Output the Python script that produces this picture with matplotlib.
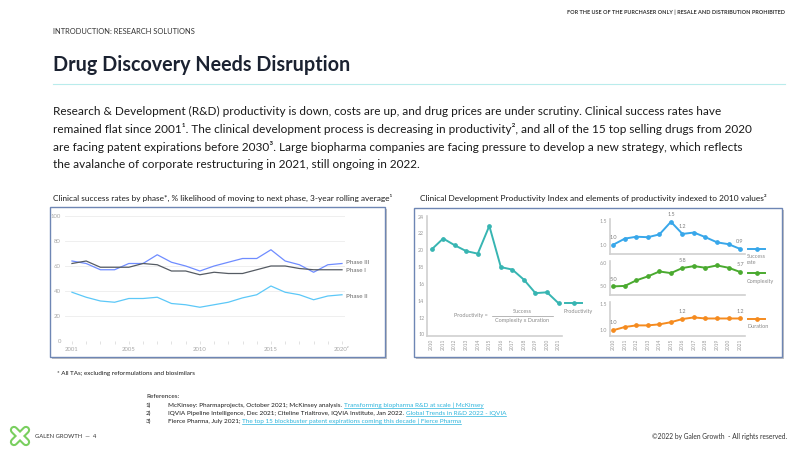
import matplotlib
matplotlib.use('Agg')
import matplotlib.pyplot as plt
from matplotlib.patches import Rectangle
from matplotlib.lines import Line2D

# ---------------- data ----------------
years_left = list(range(2001, 2021))
phase_iii = [64, 62, 57, 57, 62, 62, 69, 63, 60, 56, 60, 63, 66, 66, 73, 64, 61, 55, 61, 62]
phase_i = [62, 64, 59, 59, 59, 62, 61, 56, 56, 53, 55, 54, 54, 57, 60, 60, 58, 57, 57, 57]
phase_ii = [39, 35, 32, 31, 34, 34, 35, 30, 29, 27, 29, 31, 34.5, 37, 44, 39, 37, 33, 36, 37]
left_xticks = [2001, 2005, 2010, 2015, 2020]
left_xticklabels = ['2001', '2005', '2010', '2015', '2020²']
left_yticks = [0, 20, 40, 60, 80, 100]
phase_names = ['Phase III', 'Phase I', 'Phase II']

years_right = list(range(2010, 2022))
productivity = [20.1, 21.4, 20.6, 19.9, 19.6, 22.9, 18.0, 17.7, 16.5, 14.9, 15.0, 13.7]
success_rate = [1.0, 1.13, 1.17, 1.16, 1.22, 1.49, 1.23, 1.26, 1.16, 1.05, 1.01, 0.91]
complexity = [5.0, 5.02, 5.26, 5.43, 5.64, 5.57, 5.79, 5.87, 5.80, 5.90, 5.80, 5.62]
duration = [1.0, 1.06, 1.09, 1.09, 1.11, 1.15, 1.21, 1.24, 1.22, 1.22, 1.22, 1.22]
prod_yticks = [10, 12, 14, 16, 18, 20, 22, 24]
success_labels = [(0, '1.0'), (5, '1.5'), (6, '1.2'), (11, '0.9')]
complexity_labels = [(0, '5.0'), (6, '5.8'), (11, '5.7')]
duration_labels = [(0, '1.0'), (6, '1.2'), (11, '1.2')]

paragraph = [
    "Research & Development (R&D) productivity is down, costs are up, and drug prices are under scrutiny. Clinical success rates have",
    "remained flat since 2001¹. The clinical development process is decreasing in productivity², and all of the 15 top selling drugs from 2020",
    "are facing patent expirations before 2030³. Large biopharma companies are facing pressure to develop a new strategy, which reflects",
    "the avalanche of corporate restructuring in 2021, still ongoing in 2022.",
]
references = [
    ("1)", "McKinsey: Pharmaprojects, October 2021; McKinsey analysis. ", "Transforming biopharma R&D at scale | McKinsey"),
    ("2)", "IQVIA Pipeline Intelligence, Dec 2021; Citeline Trialtrove, IQVIA Institute, Jan 2022. ", "Global Trends in R&D 2022 - IQVIA"),
    ("3)", "Fierce Pharma, July 2021; ", "The top 15 blockbuster patent expirations coming this decade | Fierce Pharma"),
]

# ---------------- setup ----------------
plt.rcParams['font.family'] = ['Lato', 'DejaVu Sans']
W, H = 800, 450
fig = plt.figure(figsize=(8, 4.5), dpi=100)
fig.patch.set_facecolor('white')
fig.canvas.draw()
R = fig.canvas.get_renderer()


def fx(x):
    return x / W


def fy(y):
    return 1 - y / H


def txt(x, y, s, **kw):
    kw.setdefault('va', 'center')
    return fig.text(fx(x), fy(y), s, **kw)


def width(t):
    return t.get_window_extent(renderer=R).width


def fit(t, w):
    t.set_fontsize(t.get_fontsize() * w / width(t))
    return t


def ax_at(x0, y0, x1, y1):
    a = fig.add_axes([fx(x0), fy(y1), (x1 - x0) / W, (y1 - y0) / H])
    a.set_facecolor('none')
    return a


def fline(xs, ys, **kw):
    fig.add_artist(Line2D([fx(v) for v in xs], [fy(v) for v in ys], transform=fig.transFigure, **kw))


def box(x0, y0, x1, y1):
    fig.add_artist(Rectangle((fx(x0 + 2), fy(y1 + 2)), (x1 - x0) / W, (y1 - y0) / H,
                             transform=fig.transFigure, facecolor='#c4c4c4', edgecolor='none', zorder=-3))
    fig.add_artist(Rectangle((fx(x0), fy(y1)), (x1 - x0) / W, (y1 - y0) / H,
                             transform=fig.transFigure, facecolor='white', edgecolor='#6e86b4', lw=1.0, zorder=-2))


# ---------------- header ----------------
t = txt(785, 12, "FOR THE USE OF THE PURCHASER ONLY | RESALE AND DISTRIBUTION PROHIBITED",
        ha='right', fontsize=4.5, color='#333333', fontweight='bold')
fit(t, 218)
t = txt(53, 31, "INTRODUCTION: RESEARCH SOLUTIONS", fontsize=5.5, color='#333333')
fit(t, 142)
t = txt(53, 65, "Drug Discovery Needs Disruption", fontsize=14, fontweight='bold', color='#1b2231')
fit(t, 297)
fline([53, 785], [84.3, 84.3], color='#b9ecec', lw=0.8)

pts = [txt(53, 111 + 18 * i, line, fontsize=8.5, color='#1a1a1a') for i, line in enumerate(paragraph)]
fit(pts[1], 693)
for p in pts:
    p.set_fontsize(pts[1].get_fontsize())

# ---------------- left chart ----------------
t = txt(53, 198, "Clinical success rates by phase*, % likelihood of moving to next phase, 3-year rolling average¹",
        fontsize=5.5, color='#1a1a1a')
fit(t, 335)
box(50, 207, 385, 357)

axL = ax_at(65, 216, 345, 341)
cols = ['#6f8cff', '#555b63', '#5cc8f8']
for vals, c in zip([phase_iii, phase_i, phase_ii], cols):
    axL.plot(years_left, vals, color=c, lw=0.9)
axL.set_xlim(2000.51, 2020.21)
axL.set_ylim(0, 100)
axL.set_yticks(left_yticks)
axL.set_xticks(left_xticks)
axL.set_xticklabels(left_xticklabels)
axL.set_xticks(years_left, minor=True)
axL.grid(axis='y', color='#ececec', lw=0.6)
axL.set_axisbelow(True)
for s in axL.spines.values():
    s.set_visible(False)
axL.tick_params(axis='y', length=0, labelsize=4.3, labelcolor='#a8a8a8', pad=3)
axL.tick_params(axis='x', which='both', length=2, width=0.4, color='#cccccc', labelsize=4.3,
                labelcolor='#a8a8a8', pad=2)
lab_y = [262, 270, 296]
for name, yy in zip(phase_names, lab_y):
    txt(346, yy, name, fontsize=4.5, color='#666666')

t = txt(57, 373, "* All TAs; excluding reformulations and biosimilars", fontsize=4.5, color='#1a1a1a')
fit(t, 138)

# ---------------- right chart ----------------
t = txt(420, 198, "Clinical Development Productivity Index and elements of productivity indexed to 2010 values²",
        fontsize=5.5, color='#1a1a1a')
fit(t, 345)
box(414, 208, 782, 357)

teal = '#37b5b2'
axP = ax_at(427, 216, 562, 336)
axP.plot(years_right, productivity, color=teal, lw=1.4, marker='o', ms=2.4)
axP.set_xlim(2009.6, 2021.3)
axP.set_ylim(9.8, 24.08)
axP.set_yticks(prod_yticks)
axP.set_xticks(years_right)


def style_right(a, show_x):
    for k in ['top', 'right']:
        a.spines[k].set_visible(False)
    for k in ['left', 'bottom']:
        a.spines[k].set_color('#d0d0d0')
        a.spines[k].set_linewidth(1.2)
    a.tick_params(axis='y', length=0, labelsize=3.8, labelcolor='#9a9a9a', pad=2)
    a.tick_params(axis='x', length=0, labelsize=3.5, labelcolor='#9a9a9a', pad=2, labelrotation=90)
    if not show_x:
        a.set_xticklabels([])


style_right(axP, True)

txt(489, 316, "Productivity = ", ha='right', fontsize=4, color='#8a8a8a')
txt(522.5, 311.5, "Success", ha='center', fontsize=4, color='#8a8a8a')
fline([492, 553], [315.5, 315.5], color='#9a9a9a', lw=0.5)
txt(522.5, 320.5, "Complexity x Duration", ha='center', fontsize=4, color='#8a8a8a')


def legend_item(y, color, label_lines):
    fline([565 if color == teal else 748, 582 if color == teal else 765], [y, y], color=color, lw=1.4)
    xm = 573.5 if color == teal else 756.5
    fline([xm], [y], color=color, marker='o', ms=2.4, lw=0)
    x0 = 564 if color == teal else 747
    for i, l in enumerate(label_lines):
        txt(x0, y + 8 + 5 * i, l, fontsize=4, color='#8a8a8a')


legend_item(303, teal, ["Productivity"])

panels = [
    (219, 254, (0.8, 1.55), [1.0, 1.5], ['1.0', '1.5'], success_rate, '#38a7ea', success_labels, False,
     ["Success", "rate"], 249),
    (261, 295, (4.63, 6.09), [5.0, 6.0], ['5.0', '6.0'], complexity, '#4aaa2f', complexity_labels, False,
     ["Complexity"], 273),
    (302, 335.5, (0.9, 1.53), [1.0, 1.5], ['1.0', '1.5'], duration, '#f58b1f', duration_labels, True,
     ["Duration"], 319),
]
for top, bot, ylim, yt, ytl, vals, col, labs, showx, leg, legy in panels:
    a = ax_at(610, top, 745, bot)
    a.plot(years_right, vals, color=col, lw=1.4, marker='o', ms=2.4)
    a.set_xlim(2009.71, 2021.43)
    a.set_ylim(*ylim)
    a.set_yticks(yt)
    a.set_yticklabels(ytl)
    a.set_xticks(years_right)
    style_right(a, showx)
    for i, s in labs:
        a.annotate(s, (years_right[i], vals[i]), xytext=(0, 3.5), textcoords='offset points',
                   ha='center', va='bottom', fontsize=4, color='#808080')
    legend_item(legy, col, leg)

# ---------------- references ----------------
txt(146, 397, "References:", fontsize=4.6, color='#1a1a1a')
for i, (num, plain, link) in enumerate(references):
    y = 405 + 8 * i
    txt(146, y, num, fontsize=4.6, color='#1a1a1a')
    tp = txt(168, y, plain, fontsize=4.6, color='#1a1a1a')
    wp = width(tp)
    tl = txt(168 + wp, y, link, fontsize=4.6, color='#2bb4dc')
    wl = width(tl)
    fline([168 + wp, 168 + wp + wl], [y + 3.2, y + 3.2], color='#2bb4dc', lw=0.5)

# ---------------- footer ----------------
axG = ax_at(8, 424, 32, 448)
axG.set_xlim(0, 1)
axG.set_ylim(0, 1)
axG.axis('off')
for (xa, ya, xb, yb) in [(0.25, 0.25, 0.75, 0.75), (0.25, 0.75, 0.75, 0.25)]:
    axG.plot([xa, xb], [ya, yb], color='#79cf5f', lw=6, solid_capstyle='round')
for (xa, ya, xb, yb) in [(0.25, 0.25, 0.75, 0.75), (0.25, 0.75, 0.75, 0.25)]:
    axG.plot([xa, xb], [ya, yb], color='white', lw=3, solid_capstyle='round')

t = txt(35, 437, "GALEN GROWTH  —  4", fontsize=5, color='#333333')
fit(t, 62)
t = txt(787, 436, "©2022 by Galen Growth  - All rights reserved.", ha='right', fontsize=5, color='#333333')
fit(t, 135)

fig.savefig('out.png', dpi=100, facecolor='white')
